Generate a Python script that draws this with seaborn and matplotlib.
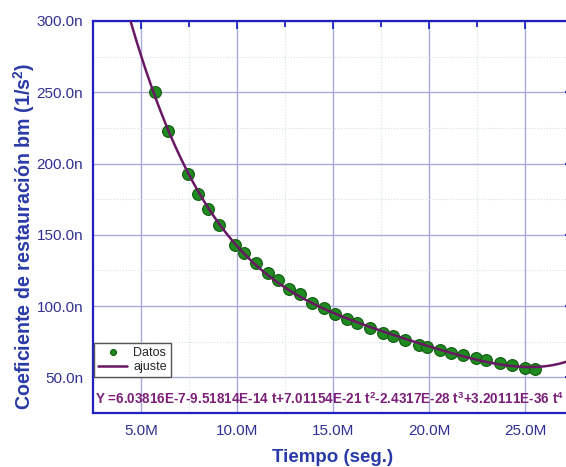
import numpy as np
import pandas as pd
import seaborn as sns
import matplotlib
matplotlib.use('Agg')
import matplotlib.pyplot as plt
from matplotlib.ticker import MultipleLocator, FuncFormatter

# tiempo en millones de segundos, coeficiente en nano (1/s^2)
tiempo = [5.73, 6.40, 7.46, 7.95, 8.47, 9.07, 9.89, 10.37, 10.98, 11.59,
          12.14, 12.72, 13.28, 13.93, 14.52, 15.11, 15.72, 16.25, 16.93, 17.58,
          18.15, 18.75, 19.48, 19.92, 20.56, 21.17, 21.77, 22.43, 22.95, 23.69,
          24.34, 24.98, 25.51]
coef = [250.1, 222.8, 192.4, 178.8, 168.0, 157.2, 142.7, 137.3, 129.9, 123.3,
        118.1, 112.3, 108.4, 102.4, 98.5, 94.5, 91.0, 88.1, 84.6, 81.1,
        78.8, 76.0, 72.9, 71.1, 69.5, 67.4, 65.7, 63.8, 62.4, 60.3,
        58.4, 56.8, 55.6]

ecuacion = (r'Y =6.03816E-7-9.51814E-14 t+7.01154E-21 t$^{2}$-2.4317E-28 t$^{3}$'
            r'+3.20111E-36 t$^{4}$')

df = pd.DataFrame({'t': tiempo, 'bm': coef})

sns.set_style('white')
plt.rcParams['font.family'] = ['Liberation Sans', 'DejaVu Sans']
plt.rcParams['mathtext.fontset'] = 'custom'
plt.rcParams['mathtext.rm'] = 'Liberation Sans'
plt.rcParams['mathtext.bf'] = 'Liberation Sans:bold'
plt.rcParams['mathtext.default'] = 'bf'

azul = '#1f1fc4'
azul_txt = '#303092'
azul_lab = '#2a3aa8'
morado = '#6a1764'

fig = plt.figure(figsize=(5.66, 4.67), dpi=100)
ax = fig.add_axes([93/566, 54/467, 480/566, 392/467])

ax.set_xlim(2.5, 27.5)
ax.set_ylim(25, 300)

ax.xaxis.set_major_locator(MultipleLocator(5))
ax.xaxis.set_minor_locator(MultipleLocator(2.5))
ax.yaxis.set_major_locator(MultipleLocator(50))
ax.yaxis.set_minor_locator(MultipleLocator(25))
ax.xaxis.set_major_formatter(FuncFormatter(lambda v, p: '{:.1f}M'.format(v)))
ax.yaxis.set_major_formatter(FuncFormatter(lambda v, p: '{:.1f}n'.format(v)))

ax.grid(True, which='major', color='#a9a9db', linewidth=1.0, linestyle='-')
ax.grid(True, which='minor', color='#cfe0e4', linewidth=0.8, linestyle=':')
ax.set_axisbelow(True)

sns.scatterplot(data=df, x='t', y='bm', ax=ax, s=72, color='#1f8a1f',
                edgecolor='#0d5a0d', linewidth=0.8, label='Datos', zorder=3)
sns.regplot(data=df, x='t', y='bm', ax=ax, order=4, ci=None, scatter=False,
            truncate=False, color=morado, line_kws={'linewidth': 1.8, 'zorder': 4},
            label='ajuste')

ax.set_xlim(2.5, 27.5)
ax.set_ylim(25, 300)

for s in ['left', 'bottom', 'top', 'right']:
    ax.spines[s].set_color(azul)
    ax.spines[s].set_linewidth(1.6)

ax.tick_params(which='both', direction='in', top=True, right=True,
               color=azul, width=1.3)
ax.tick_params(which='major', length=6, labelsize=11, labelcolor=azul_txt)
ax.tick_params(which='minor', length=4)
ax.tick_params(axis='x', which='major', pad=8)
ax.tick_params(axis='y', which='major', pad=7)

ax.set_xlabel('Tiempo (seg.)', fontsize=13.5, fontweight='bold', color=azul_lab)
ax.set_ylabel('Coeficiente de restauración bm (1/s$^{2}$)', fontsize=14.1,
              fontweight='bold', color=azul_lab)
ax.xaxis.set_label_coords(0.5, -0.092)
ax.yaxis.set_label_coords(-0.117, 0.45)

ax.text(0.004, 0.036, ecuacion, transform=ax.transAxes, fontsize=9.75,
        fontweight='bold', color='#7b1f78', va='center', ha='left', clip_on=False)

leg = ax.legend(loc='lower left', bbox_to_anchor=(0.003, 0.092), fontsize=9,
                frameon=True, fancybox=False, framealpha=1, edgecolor='#555555',
                borderpad=0.3, handlelength=2.3, handletextpad=0.5,
                labelspacing=0.2, borderaxespad=0, markerscale=0.5)
leg.get_frame().set_linewidth(1.0)

fig.savefig('out.png', dpi=100)
